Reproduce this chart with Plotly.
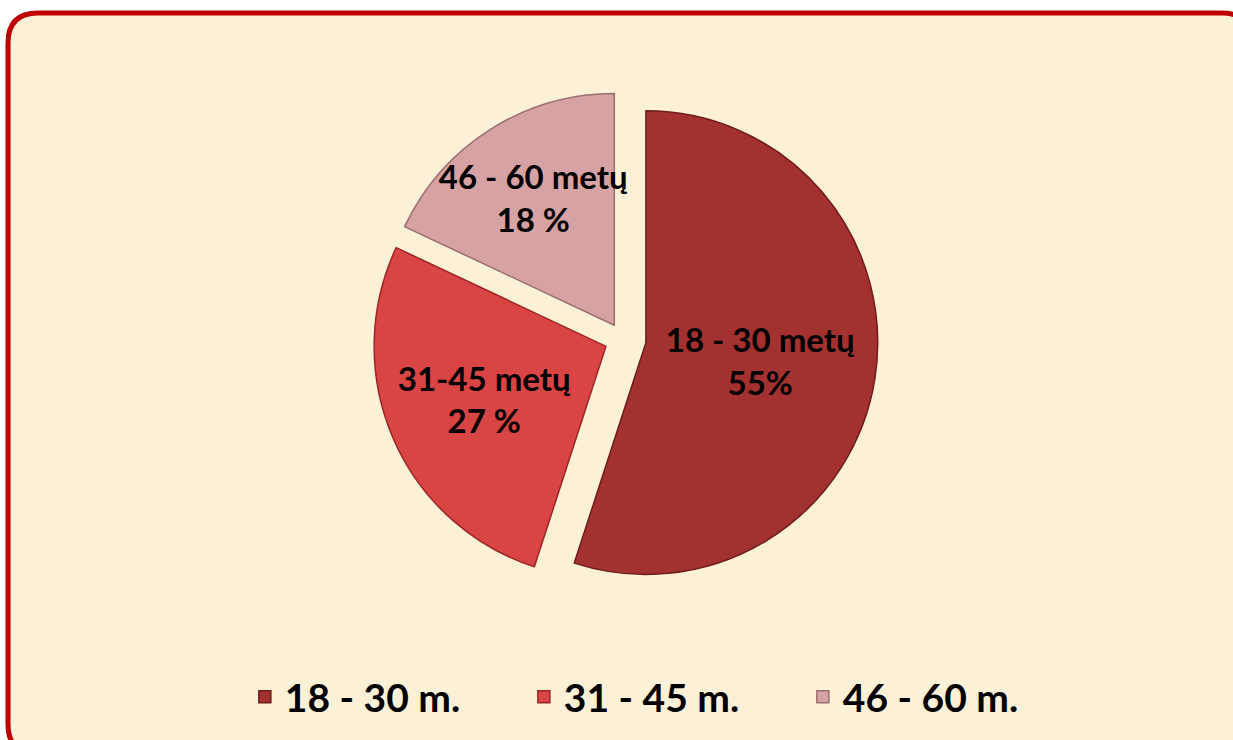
import plotly.graph_objects as go

# Data
categories = ["18 - 30 m.", "31 - 45 m.", "46 - 60 m."]
values = [55, 27, 18]
slice_labels = ["18 - 30 metų<br>55%", "31-45 metų<br>27 %", "46 - 60 metų<br>18 %"]

colors = ["#a33130", "#d94444", "#d6a2a3"]
edge_colors = ["#6e1c1c", "#9c2626", "#9a6e70"]
pulls = [0.10, 0.08, 0.07]

W, H = 1233, 740

def px(x):
    return x / W

def py(y):
    return 1 - y / H

fig = go.Figure()
fig.add_trace(go.Pie(
    labels=categories,
    values=values,
    text=slice_labels,
    texttemplate="%{text}",
    textinfo="text",
    textposition="inside",
    insidetextorientation="horizontal",
    sort=False,
    direction="clockwise",
    rotation=0,
    pull=pulls,
    marker=dict(colors=colors, line=dict(color=edge_colors, width=1.5)),
    textfont=dict(family="Lato", size=33, color="#000000", weight="bold"),
    domain=dict(x=[px(365), px(881)], y=[py(594), py(84)]),
    hoverinfo="label+percent",
))

# rounded frame
x0, y0, x1, y1, r = 8, 13, 1252, 754, 30
path = (
    f"M {px(x0)},{py(y0 + r)} "
    f"Q {px(x0)},{py(y0)} {px(x0 + r)},{py(y0)} "
    f"L {px(x1 - r)},{py(y0)} "
    f"Q {px(x1)},{py(y0)} {px(x1)},{py(y0 + r)} "
    f"L {px(x1)},{py(y1 - r)} "
    f"Q {px(x1)},{py(y1)} {px(x1 - r)},{py(y1)} "
    f"L {px(x0 + r)},{py(y1)} "
    f"Q {px(x0)},{py(y1)} {px(x0)},{py(y1 - r)} Z"
)

fig.update_layout(
    width=W, height=H,
    margin=dict(l=0, r=0, t=0, b=0),
    paper_bgcolor="#ffffff",
    plot_bgcolor="#ffffff",
    uniformtext=dict(minsize=33, mode="show"),
    shapes=[dict(type="path", path=path, xref="paper", yref="paper",
                 fillcolor="#fcf0d7", line=dict(color="#c00000", width=5),
                 layer="below")],
    showlegend=True,
    legend=dict(
        orientation="h", x=0.538, xanchor="center", y=py(697), yanchor="middle",
        font=dict(family="Lato", size=39, color="#000000", weight="bold"),
        entrywidth=234, bgcolor="rgba(0,0,0,0)",
    ),
)

fig.write_html("out.html", config={"displayModeBar": False},
               post_script="document.documentElement.style.overflow='hidden';document.body.style.margin='0';document.body.style.overflow='hidden';")
